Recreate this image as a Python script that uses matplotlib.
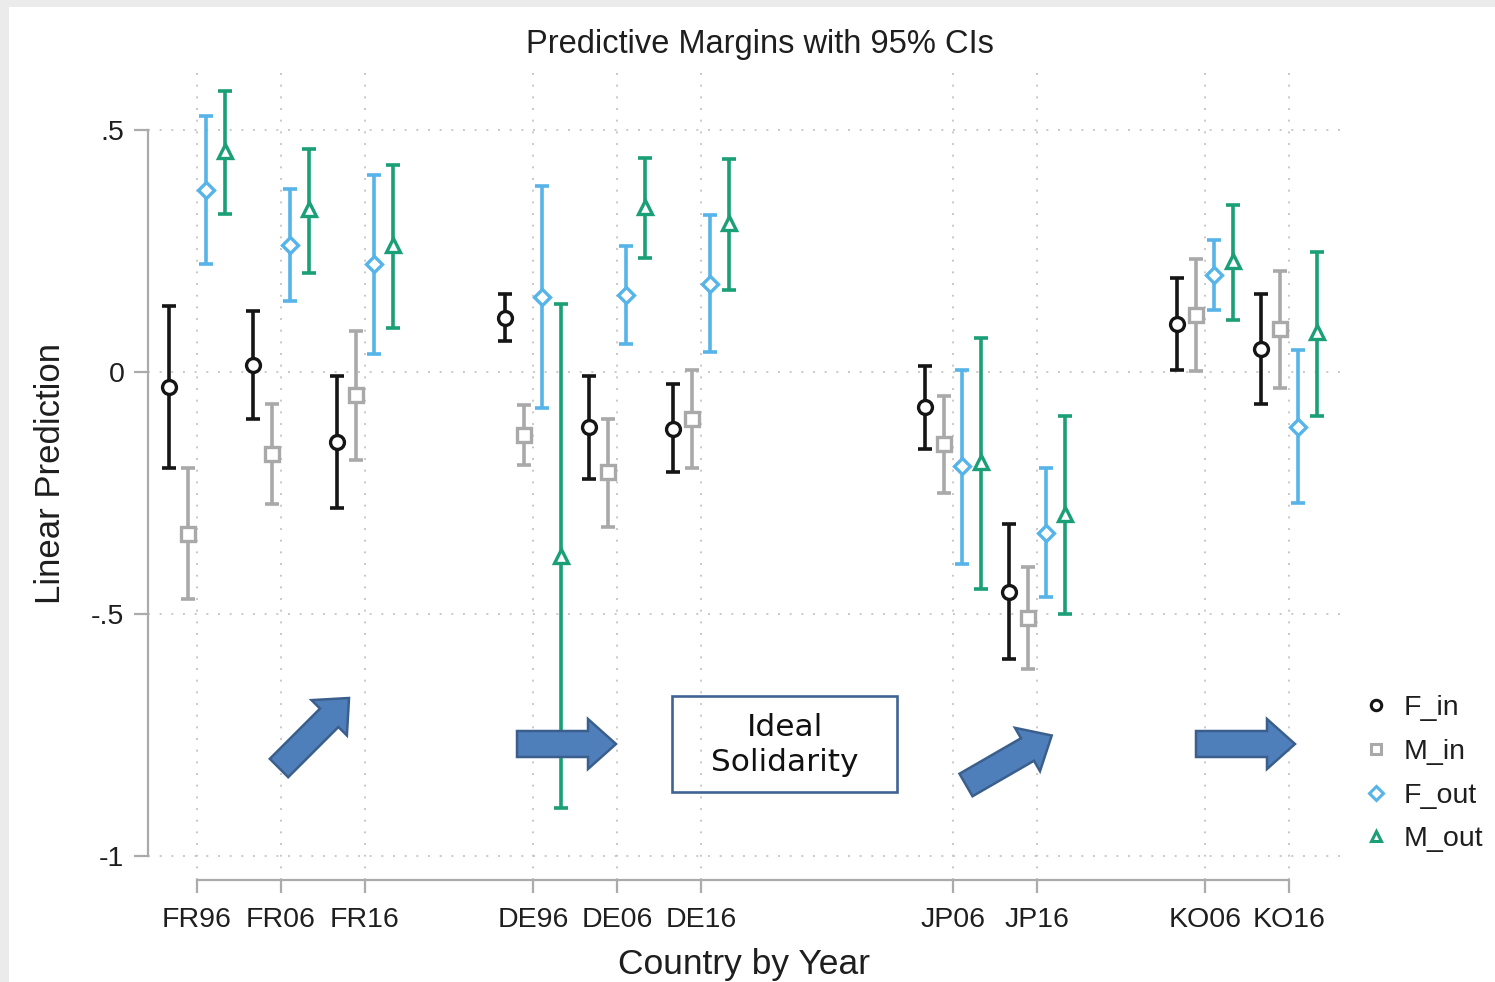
import numpy as np
import matplotlib
matplotlib.use("Agg")
import matplotlib.pyplot as plt
from matplotlib.lines import Line2D
from matplotlib.patches import Polygon, Rectangle

plt.rcParams['font.family'] = ['Liberation Sans', 'DejaVu Sans']

# country-year positions on the x axis (gaps between countries)
positions = [1, 2, 3, 5, 6, 7, 10, 11, 13, 14]
labels = ['FR96', 'FR06', 'FR16', 'DE96', 'DE06', 'DE16', 'JP06', 'JP16', 'KO06', 'KO16']

# margins and 95% CIs per group
f_in = [-0.031, 0.014, -0.145, 0.112, -0.114, -0.118, -0.072, -0.455, 0.099, 0.048]
f_in_lo = [-0.198, -0.097, -0.281, 0.064, -0.221, -0.207, -0.159, -0.593, 0.004, -0.066]
f_in_hi = [0.136, 0.126, -0.008, 0.161, -0.008, -0.025, 0.012, -0.314, 0.194, 0.161]

m_in = [-0.335, -0.169, -0.048, -0.130, -0.207, -0.097, -0.149, -0.508, 0.118, 0.089]
m_in_lo = [-0.469, -0.273, -0.182, -0.192, -0.320, -0.198, -0.250, -0.614, 0.002, -0.033]
m_in_hi = [-0.198, -0.066, 0.085, -0.068, -0.097, 0.004, -0.050, -0.403, 0.233, 0.209]

f_out = [0.376, 0.262, 0.223, 0.155, 0.159, 0.182, -0.194, -0.333, 0.200, -0.114]
f_out_lo = [0.223, 0.147, 0.037, -0.074, 0.058, 0.041, -0.397, -0.465, 0.128, -0.271]
f_out_hi = [0.529, 0.378, 0.407, 0.384, 0.260, 0.324, 0.004, -0.198, 0.273, 0.045]

m_out = [0.457, 0.337, 0.262, -0.380, 0.341, 0.308, -0.186, -0.293, 0.229, 0.083]
m_out_lo = [0.326, 0.205, 0.091, -0.901, 0.236, 0.169, -0.448, -0.500, 0.107, -0.091]
m_out_hi = [0.581, 0.461, 0.428, 0.140, 0.442, 0.440, 0.070, -0.091, 0.345, 0.248]

# name, values, color, marker, size in plot, size in legend, x offset
series = [
    ('F_in', f_in, f_in_lo, f_in_hi, '#151515', 'o', 10, 7.5, -0.33),
    ('M_in', m_in, m_in_lo, m_in_hi, '#a9a9a9', 's', 9.5, 7.5, -0.11),
    ('F_out', f_out, f_out_lo, f_out_hi, '#56b4e9', 'D', 8.5, 7, 0.11),
    ('M_out', m_out, m_out_lo, m_out_hi, '#1a9f77', '^', 9.5, 7, 0.33),
]

W, H = 1495, 982
fig = plt.figure(figsize=(W / 100, H / 100), dpi=100, facecolor='#ebebeb')
fig.patches.append(Rectangle((9 / W, 0), 1, (H - 7) / H, transform=fig.transFigure,
                             facecolor='white', edgecolor='none', zorder=-1))

ax = fig.add_axes([148 / W, (H - 880) / H, (1340 - 148) / W, (880 - 68) / H])
ax.set_facecolor('none')

pos = np.array(positions, dtype=float)
handles = []
for name, est, lo, hi, color, marker, ms, ms_leg, off in series:
    est = np.array(est)
    yerr = [est - np.array(lo), np.array(hi) - est]
    ax.errorbar(pos + off, est, yerr=yerr, fmt='none', ecolor=color,
                elinewidth=2.6, capsize=5, capthick=2.6, zorder=3)
    ax.plot(pos + off, est, linestyle='none', marker=marker, ms=ms,
            mfc='white', mec=color, mew=2.4, zorder=4)
    handles.append(Line2D([], [], linestyle='none', marker=marker, ms=ms_leg,
                          mfc='white', mec=color, mew=2.2, label=name))

ax.set_xlim(1 - 49 / 84, 1 + (1340 - 197) / 84)
ax.set_ylim(-508 / 484, 304 / 484)

ax.set_yticks([-1, -0.5, 0, 0.5])
ax.set_yticklabels(['-1', '-.5', '0', '.5'])
ax.set_xticks(positions)
ax.set_xticklabels(labels)

for s in ['top', 'right']:
    ax.spines[s].set_visible(False)
ax.spines['left'].set_bounds(-1, 0.5)
ax.spines['bottom'].set_bounds(1, 14)
for s in ['left', 'bottom']:
    ax.spines[s].set_color('#ababab')
    ax.spines[s].set_linewidth(1.6)
ax.tick_params(axis='both', colors='#ababab', width=1.6, labelcolor='#1e1e1e',
               labelsize=20.5)
ax.tick_params(axis='y', length=10, pad=7)
ax.tick_params(axis='x', length=9.5, pad=10)

ax.grid(True, color='#c8c8c8', linestyle=(0, (1, 5)), linewidth=1.4, zorder=0)
ax.set_axisbelow(True)

ax.set_ylabel('Linear Prediction', fontsize=25, color='#1e1e1e', labelpad=17)
ax.set_xlabel('Country by Year', fontsize=25.5, color='#1e1e1e', labelpad=11)
fig.text(760 / W, 1 - 45 / H, 'Predictive Margins with 95% CIs', fontsize=23.5,
         color='#1e1e1e', ha='center', va='center')

ax.legend(handles=handles, loc='upper left', bbox_to_anchor=(1348 / W, 1 - 681 / H),
          bbox_transform=fig.transFigure, frameon=False, fontsize=20.5,
          handlelength=1.0, handletextpad=0.45, labelspacing=0.62, borderpad=0,
          labelcolor='#1e1e1e')

# overlay in pixel coordinates for the arrows and the text box
ov = fig.add_axes([0, 0, 1, 1], zorder=5)
ov.set_xlim(0, W)
ov.set_ylim(H, 0)
ov.axis('off')


def block_arrow(tx, ty, angle, length=99, shaft=13, head=25, head_len=28):
    a = np.deg2rad(angle)
    d = np.array([np.cos(a), -np.sin(a)])
    n = np.array([np.sin(a), np.cos(a)])
    local = [(0, -shaft), (length - head_len, -shaft), (length - head_len, -head),
             (length, 0), (length - head_len, head), (length - head_len, shaft), (0, shaft)]
    pts = [np.array([tx, ty]) + u * d + v * n for u, v in local]
    return Polygon(pts, closed=True, facecolor='#4f7fbb', edgecolor='#3a5f8c',
                   linewidth=1.8, joinstyle='miter')


for tx, ty, ang in [(279, 768, 45), (517, 744, 0), (966, 785, 30), (1196, 744, 0)]:
    ov.add_patch(block_arrow(tx, ty, ang))

ov.add_patch(Rectangle((672, 696), 225, 96, facecolor='none', edgecolor='#3f6494',
                       linewidth=1.9))
ov.text(784.5, 745, 'Ideal\nSolidarity', family='DejaVu Sans', fontsize=22.5,
        ha='center', va='center', linespacing=1.3, color='#111111')

fig.savefig('out.png', dpi=100, facecolor=fig.get_facecolor())
